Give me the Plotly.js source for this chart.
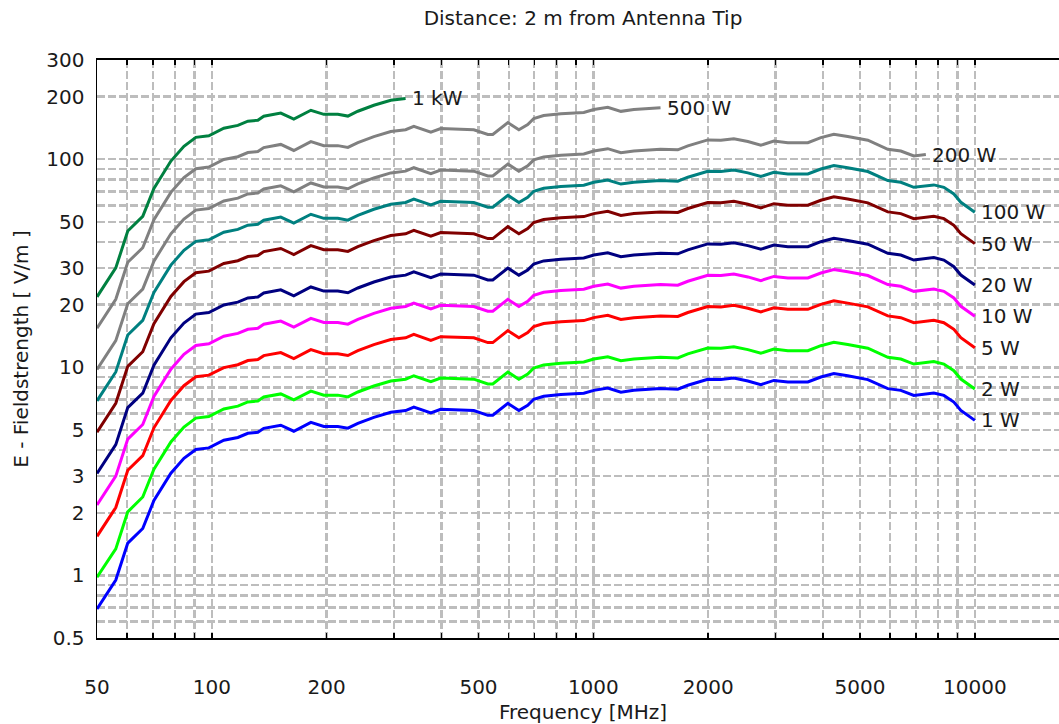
<!DOCTYPE html>
<html>
<head>
<meta charset="utf-8">
<script src="https://cdn.plot.ly/plotly-3.0.1.min.js"></script>
<style>
html, body { margin: 0; padding: 0; overflow: hidden; background: #fff; }
#chart { width: 1069px; height: 724px; }
</style>
</head>
<body>
<div id="chart"></div>
<script>
// Frequency grid [MHz]
const freq = [50, 56, 60.2, 65.9, 70.5, 78.1, 84.5, 90.8, 98.2, 107.5, 117, 124.3, 132, 136.8, 151.6, 164, 181.8, 196.6, 213.9, 227.3, 241.4, 265.9, 294.5, 322, 338.4, 375, 398, 457.6, 486, 529, 545, 597, 638, 673, 698, 741, 822, 944, 1003, 1091, 1181, 1277, 1500, 1665, 1769, 1995, 2159, 2335, 2541, 2748, 2973, 3235, 3650, 3948, 4270, 4643, 5243, 5915, 6397, 6920, 7440, 7807, 8295, 8811, 9190, 10000];

// E-fieldstrength [V/m] per transmit power
const e1W = [0.69, 0.95, 1.43, 1.68, 2.29, 3.10, 3.65, 4.03, 4.10, 4.46, 4.60, 4.82, 4.87, 5.09, 5.27, 4.93, 5.44, 5.20, 5.20, 5.10, 5.38, 5.75, 6.08, 6.20, 6.44, 6.03, 6.28, 6.20, 6.20, 5.88, 5.88, 6.71, 6.20, 6.57, 7.02, 7.26, 7.40, 7.50, 7.75, 7.95, 7.60, 7.75, 7.90, 7.85, 8.20, 8.76, 8.73, 8.88, 8.60, 8.26, 8.65, 8.50, 8.50, 8.98, 9.33, 9.10, 8.73, 7.90, 7.75, 7.33, 7.45, 7.53, 7.33, 6.81, 6.21, 5.56];
const e2W = [0.98, 1.34, 2.02, 2.38, 3.24, 4.38, 5.16, 5.70, 5.80, 6.31, 6.51, 6.82, 6.89, 7.20, 7.45, 6.97, 7.69, 7.35, 7.35, 7.21, 7.61, 8.13, 8.60, 8.77, 9.11, 8.53, 8.88, 8.77, 8.77, 8.32, 8.32, 9.49, 8.77, 9.29, 9.93, 10.27, 10.47, 10.61, 10.96, 11.24, 10.75, 10.96, 11.17, 11.10, 11.60, 12.39, 12.35, 12.56, 12.16, 11.68, 12.23, 12.02, 12.02, 12.70, 13.19, 12.87, 12.35, 11.17, 10.96, 10.37, 10.54, 10.65, 10.37, 9.63, 8.78, 7.86];
const e5W = [1.54, 2.12, 3.20, 3.76, 5.12, 6.93, 8.16, 9.01, 9.17, 9.97, 10.29, 10.78, 10.89, 11.38, 11.78, 11.02, 12.16, 11.63, 11.63, 11.40, 12.03, 12.86, 13.60, 13.86, 14.40, 13.48, 14.04, 13.86, 13.86, 13.15, 13.15, 15.00, 13.86, 14.69, 15.70, 16.23, 16.55, 16.77, 17.33, 17.78, 16.99, 17.33, 17.67, 17.55, 18.34, 19.59, 19.52, 19.86, 19.23, 18.47, 19.34, 19.01, 19.01, 20.08, 20.86, 20.35, 19.52, 17.67, 17.33, 16.39, 16.66, 16.84, 16.39, 15.23, 13.89, 12.43];
const e10W = [2.18, 3.00, 4.52, 5.31, 7.24, 9.80, 11.54, 12.74, 12.97, 14.10, 14.55, 15.24, 15.40, 16.10, 16.67, 15.59, 17.20, 16.44, 16.44, 16.13, 17.01, 18.18, 19.23, 19.61, 20.37, 19.07, 19.86, 19.61, 19.61, 18.59, 18.59, 21.22, 19.61, 20.78, 22.20, 22.96, 23.40, 23.72, 24.51, 25.14, 24.03, 24.51, 24.98, 24.82, 25.93, 27.70, 27.61, 28.08, 27.20, 26.12, 27.35, 26.88, 26.88, 28.40, 29.50, 28.78, 27.61, 24.98, 24.51, 23.18, 23.56, 23.81, 23.18, 21.54, 19.64, 17.58];
const e20W = [3.09, 4.25, 6.40, 7.51, 10.24, 13.86, 16.32, 18.02, 18.34, 19.95, 20.57, 21.56, 21.78, 22.76, 23.57, 22.05, 24.33, 23.25, 23.25, 22.81, 24.06, 25.71, 27.19, 27.73, 28.80, 26.97, 28.08, 27.73, 27.73, 26.30, 26.30, 30.01, 27.73, 29.38, 31.39, 32.47, 33.09, 33.54, 34.66, 35.55, 33.99, 34.66, 35.33, 35.11, 36.67, 39.18, 39.04, 39.71, 38.46, 36.94, 38.68, 38.01, 38.01, 40.16, 41.72, 40.70, 39.04, 35.33, 34.66, 32.78, 33.32, 33.68, 32.78, 30.46, 27.77, 24.86];
const e50W = [4.88, 6.72, 10.11, 11.88, 16.19, 21.92, 25.81, 28.50, 28.99, 31.54, 32.53, 34.08, 34.44, 35.99, 37.26, 34.86, 38.47, 36.77, 36.77, 36.06, 38.04, 40.66, 42.99, 43.84, 45.54, 42.64, 44.41, 43.84, 43.84, 41.58, 41.58, 47.45, 43.84, 46.46, 49.64, 51.34, 52.33, 53.03, 54.80, 56.22, 53.74, 54.80, 55.86, 55.51, 57.98, 61.94, 61.73, 62.79, 60.81, 58.41, 61.17, 60.10, 60.10, 63.50, 65.97, 64.35, 61.73, 55.86, 54.80, 51.83, 52.68, 53.25, 51.83, 48.15, 43.91, 39.32];
const e100W = [6.9, 9.5, 14.3, 16.8, 22.9, 31.0, 36.5, 40.3, 41.0, 44.6, 46.0, 48.2, 48.7, 50.9, 52.7, 49.3, 54.4, 52.0, 52.0, 51.0, 53.8, 57.5, 60.8, 62.0, 64.4, 60.3, 62.8, 62.0, 62.0, 58.8, 58.8, 67.1, 62.0, 65.7, 70.2, 72.6, 74.0, 75.0, 77.5, 79.5, 76.0, 77.5, 79.0, 78.5, 82.0, 87.6, 87.3, 88.8, 86.0, 82.6, 86.5, 85.0, 85.0, 89.8, 93.3, 91.0, 87.3, 79.0, 77.5, 73.3, 74.5, 75.3, 73.3, 68.1, 62.1, 55.6];
const e200W = [9.76, 13.43, 20.22, 23.76, 32.39, 43.84, 51.62, 56.99, 57.98, 63.07, 65.05, 68.16, 68.87, 71.98, 74.53, 69.72, 76.93, 73.54, 73.54, 72.12, 76.08, 81.32, 85.98, 87.68, 91.07, 85.28, 88.81, 87.68, 87.68, 83.15, 83.15, 94.89, 87.68, 92.91, 99.28, 102.67, 104.65, 106.07, 109.60, 112.43, 107.48, 109.60, 111.72, 111.01, 115.96, 123.88, 123.46, 125.58, 121.62, 116.81, 122.33, 120.21, 120.21, 127.00, 131.94, 128.69, 123.46, 111.72, 109.60, 103.66, 105.36];
const e500W = [15.43, 21.24, 31.98, 37.57, 51.21, 69.32, 81.62, 90.11, 91.68, 99.73, 102.86, 107.78, 108.90, 113.82, 117.84, 110.24, 121.64, 116.28, 116.28, 114.04, 120.30, 128.58, 135.95, 138.64, 144.00, 134.84, 140.43, 138.64, 138.64, 131.48, 131.48, 150.04, 138.64, 146.91, 156.97, 162.34, 165.47, 167.71, 173.30, 177.77, 169.94, 173.30, 176.65];
const e1kW = [21.82, 30.04, 45.22, 53.13, 72.42, 98.03, 115.42, 127.44, 129.65, 141.04, 145.47, 152.42, 154.00, 160.96, 166.65, 155.90, 172.03, 164.44, 164.44, 161.28, 170.13, 181.83, 192.27, 196.06];

const seriesLabels = ['1 W', '2 W', '5 W', '10 W', '20 W', '50 W', '100 W', '200 W', '500 W', '1 kW'];
const seriesValues = [e1W, e2W, e5W, e10W, e20W, e50W, e100W, e200W, e500W, e1kW];
const seriesColors = ['#0000ff', '#00ff00', '#ff0000', '#ff00ff', '#000080', '#800000', '#008080', '#808080', '#808080', '#008040'];

// Axis ticks
const xTickVals = [50, 100, 200, 500, 1000, 2000, 5000, 10000];
const xTickText = ['50', '100', '200', '500', '1000', '2000', '5000', '10000'];
const xMinorVals = [60, 70, 80, 90, 300, 400, 600, 700, 800, 900, 3000, 4000, 6000, 7000, 8000, 9000];
const yTickVals = [0.5, 1, 2, 3, 5, 10, 20, 30, 50, 100, 200, 300];
const yTickText = ['0.5', '1', '2', '3', '5', '10', '20', '30', '50', '100', '200', '300'];
const yMinorVals = [0.6, 0.7, 0.8, 0.9, 4, 6, 7, 8, 9, 40, 60, 70, 80, 90];

const FONT = 'DejaVu Sans, Arial, sans-serif';
const TXT = '#1a1a1a';
const GRID = '#bdbdbd';
const DASH = '8px,3px';

const traces = seriesValues.map((vals, i) => ({
  type: 'scatter',
  mode: 'lines',
  x: freq.slice(0, vals.length),
  y: vals,
  line: { color: seriesColors[i], width: 3 },
  name: seriesLabels[i],
  hoverinfo: 'x+y+name'
}));

const annotations = seriesValues.map((vals, i) => ({
  x: Math.log10(freq[vals.length - 1]),
  y: Math.log10(vals[vals.length - 1]),
  xref: 'x', yref: 'y',
  text: seriesLabels[i],
  showarrow: false,
  xanchor: 'left', yanchor: 'middle',
  xshift: 4,
  font: { family: FONT, size: 20, color: TXT }
}));

const layout = {
  width: 1069, height: 724,
  margin: { l: 97, r: 0, t: 60, b: 86 },
  paper_bgcolor: '#ffffff', plot_bgcolor: '#ffffff',
  showlegend: false,
  font: { family: FONT, size: 20, color: TXT },
  title: {
    text: 'Distance: 2 m from Antenna Tip',
    font: { family: FONT, size: 20, color: TXT },
    x: 0.5, xref: 'paper',
    y: 1 - 18 / 724, yref: 'container', yanchor: 'middle'
  },
  xaxis: {
    type: 'log',
    range: [Math.log10(50), Math.log10(50) + 972 / 381.5],
    tickmode: 'array', tickvals: xTickVals, ticktext: xTickText,
    ticks: 'inside', ticklen: 5, tickcolor: '#000', tickwidth: 1.5,
    ticklabelstandoff: 30,
    tickfont: { family: FONT, size: 20, color: TXT },
    showline: true, linecolor: '#000', linewidth: 2, mirror: 'ticks',
    showgrid: true, gridcolor: GRID, gridwidth: 2.4, griddash: DASH,
    zeroline: false,
    minor: {
      tickmode: 'array', tickvals: xMinorVals,
      ticks: 'inside', ticklen: 5, tickcolor: '#000', tickwidth: 1.5,
      showgrid: true, gridcolor: GRID, gridwidth: 2.4, griddash: DASH
    },
    title: { text: 'Frequency [MHz]', font: { family: FONT, size: 20, color: TXT }, standoff: 8 },
    automargin: false
  },
  yaxis: {
    type: 'log',
    range: [Math.log10(0.5), Math.log10(300)],
    tickmode: 'array', tickvals: yTickVals, ticktext: yTickText,
    ticks: '', ticklabelstandoff: 7,
    tickfont: { family: FONT, size: 20, color: TXT },
    showline: true, linecolor: '#000', linewidth: 1.5, mirror: true,
    showgrid: true, gridcolor: GRID, gridwidth: 2.4, griddash: DASH,
    zeroline: false,
    minor: {
      tickmode: 'array', tickvals: yMinorVals,
      showgrid: true, gridcolor: GRID, gridwidth: 2.4, griddash: DASH
    },
    title: { text: 'E - Fieldstrength [ V/m ]', font: { family: FONT, size: 20, color: TXT }, standoff: 12 },
    automargin: false
  },
  annotations: annotations
};

Plotly.newPlot('chart', traces, layout, { displayModeBar: false, staticPlot: true });
</script>
</body>
</html>
